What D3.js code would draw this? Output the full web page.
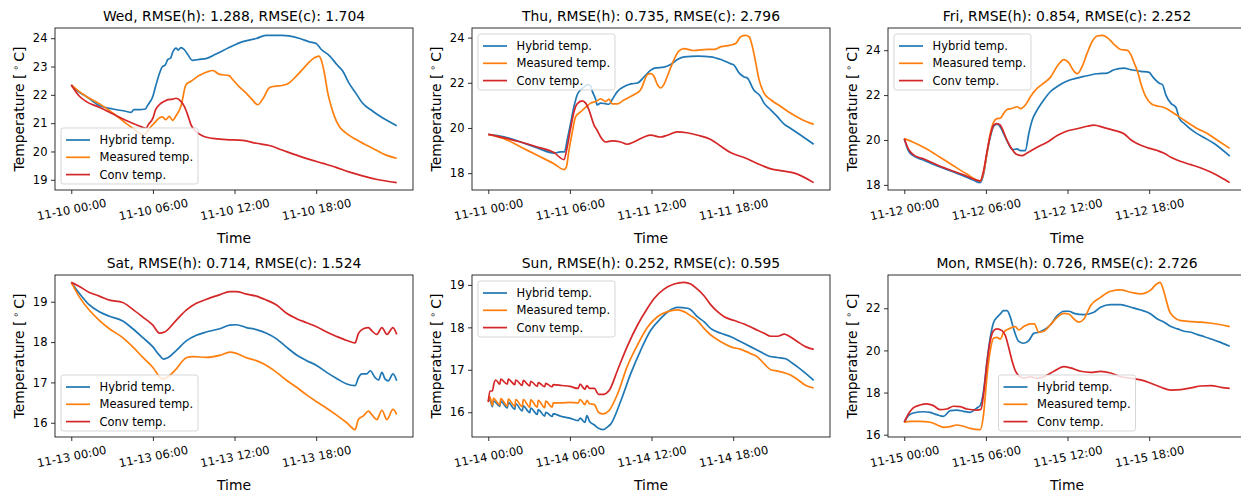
<!DOCTYPE html>
<html>
<head>
<meta charset="utf-8">
<script src="https://cdn.jsdelivr.net/npm/d3@7"></script>
<style>
  body { margin: 0; background: #fff; }
  svg { display: block; }
  text { font-family: "DejaVu Sans", sans-serif; fill: #000; }
</style>
</head>
<body>
<svg id="chart" width="1241" height="495"></svg>
<script>
// ---- data -------------------------------------------------------------
const dayNames = ["Wed", "Thu", "Fri", "Sat", "Sun", "Mon"];
const dayDates = ["2021-11-10", "2021-11-11", "2021-11-12", "2021-11-13", "2021-11-14", "2021-11-15"];
const rmseHybrid = [1.288, 0.735, 0.854, 0.714, 0.252, 0.726];
const rmseConv = [1.704, 2.796, 2.252, 1.524, 0.595, 2.726];
const seriesNames = ["Hybrid temp.", "Measured temp.", "Conv temp."];
const xTickHours = [0, 6, 12, 18];
const yTickValues = [
  [19, 20, 21, 22, 23, 24],
  [18, 20, 22, 24],
  [18, 20, 22, 24],
  [16, 17, 18, 19],
  [16, 17, 18, 19],
  [16, 18, 20, 22]
];
const legendLoc = ["lower left", "upper left", "upper left", "lower left", "upper left", "lower center"];

// each series: [hour of day, temperature in °C]
const wedHybrid = [[0,22.35],[0.5,22.12],[1.08,21.95],[2.06,21.62],[3.04,21.5],[4.0,21.42],[4.4,21.38],[4.6,21.48],[5.0,21.48],[5.45,21.5],[5.6,21.62],[6.0,21.95],[6.2,22.3],[6.5,22.78],[6.7,23.0],[6.9,23.05],[7.1,23.25],[7.3,23.3],[7.45,23.5],[7.7,23.65],[7.85,23.58],[8.06,23.67],[8.3,23.6],[8.55,23.43],[8.9,23.22],[9.4,23.25],[9.9,23.28],[10.6,23.43],[11.6,23.67],[12.6,23.88],[13.6,23.99],[14.3,24.1],[15.5,24.1],[16.0,24.08],[16.8,23.99],[17.5,23.87],[18.0,23.81],[18.36,23.61],[19.0,23.37],[19.5,23.08],[19.95,22.84],[20.4,22.42],[20.9,22.07],[21.4,21.71],[22.16,21.42],[22.9,21.18],[23.92,20.91]];
const wedMeasured = [[0,22.35],[0.5,22.15],[1.08,21.95],[2.06,21.69],[3.04,21.36],[4.0,21.0],[4.75,20.74],[5.25,20.59],[5.5,20.65],[5.86,20.88],[6.1,21.0],[6.47,21.18],[6.7,21.22],[6.95,21.12],[7.2,21.24],[7.45,21.1],[7.7,21.26],[8.06,21.6],[8.43,22.36],[8.8,22.48],[9.4,22.68],[10.15,22.84],[10.4,22.86],[10.9,22.72],[11.6,22.68],[11.86,22.54],[12.35,22.28],[12.84,22.07],[13.3,21.83],[13.7,21.65],[14.07,21.85],[14.56,22.25],[14.9,22.3],[15.5,22.33],[16.0,22.42],[16.5,22.64],[17.0,22.9],[17.5,23.16],[17.87,23.31],[18.2,23.37],[18.36,23.25],[18.6,22.78],[18.85,22.07],[19.1,21.6],[19.34,21.24],[19.7,20.88],[20.2,20.65],[20.9,20.43],[21.7,20.22],[22.4,20.05],[23.1,19.88],[23.92,19.76]];
const wedConv = [[0,22.35],[0.6,21.95],[1.08,21.77],[2.06,21.56],[3.04,21.33],[4.0,21.1],[5.0,20.9],[5.5,20.82],[5.65,20.94],[6.0,21.18],[6.2,21.48],[6.47,21.65],[6.84,21.77],[7.1,21.83],[7.45,21.85],[7.7,21.88],[8.06,21.77],[8.3,21.6],[8.55,21.3],[8.8,20.94],[9.17,20.7],[9.66,20.55],[10.4,20.46],[11.4,20.42],[12.6,20.39],[13.6,20.29],[14.56,20.21],[15.5,20.05],[16.5,19.88],[17.5,19.72],[18.5,19.58],[19.46,19.44],[20.4,19.28],[21.4,19.14],[22.4,19.02],[23.92,18.9]];

const thuHybrid = [[0,19.72],[1.15,19.61],[2.38,19.38],[3.6,19.12],[4.83,18.89],[5.3,18.94],[5.6,18.94],[5.8,19.46],[6.05,20.2],[6.3,20.95],[6.54,21.47],[6.8,21.7],[7.03,21.81],[7.28,21.92],[7.52,21.87],[7.65,21.62],[7.9,21.25],[8.0,21.02],[8.26,21.1],[8.63,21.07],[8.87,21.05],[9.1,21.25],[9.5,21.62],[10.0,21.84],[10.5,21.95],[10.96,21.99],[11.45,22.26],[11.94,22.56],[12.3,22.66],[12.9,22.69],[13.4,22.81],[13.9,23.03],[14.4,23.15],[15.4,23.18],[16.35,23.15],[17.1,23.03],[17.8,22.85],[18.06,22.78],[18.43,22.44],[18.8,22.26],[19.04,22.21],[19.5,21.69],[20.0,21.4],[20.27,21.1],[20.76,20.8],[21.25,20.5],[21.74,20.17],[22.23,19.98],[22.97,19.68],[23.92,19.28]];
const thuMeasured = [[0,19.72],[1.15,19.53],[2.38,19.16],[3.6,18.79],[4.83,18.42],[5.56,18.16],[5.74,18.27],[5.93,19.01],[6.18,19.83],[6.42,20.5],[6.8,20.72],[7.16,20.92],[7.52,21.1],[7.9,21.17],[8.26,21.29],[8.63,21.17],[8.87,21.28],[9.1,21.07],[9.5,21.07],[10.0,21.25],[10.7,21.47],[11.2,21.69],[11.7,22.36],[11.94,22.41],[12.18,22.29],[12.43,21.92],[12.67,21.77],[12.9,21.92],[13.3,22.51],[13.65,23.03],[14.0,23.4],[14.4,23.51],[15.1,23.43],[16.1,23.48],[16.6,23.48],[17.1,23.6],[17.8,23.67],[18.2,23.75],[18.55,24.04],[18.92,24.1],[19.17,24.04],[19.4,23.63],[19.66,22.88],[19.9,22.14],[20.27,21.54],[20.76,21.25],[21.5,20.95],[22.23,20.65],[22.97,20.4],[23.92,20.16]];
const thuConv = [[0,19.72],[2.38,19.38],[3.6,19.16],[4.83,18.91],[5.56,18.6],[5.8,19.16],[6.05,19.98],[6.3,20.72],[6.54,21.07],[6.9,21.2],[7.16,21.1],[7.4,20.8],[7.77,20.13],[8.0,19.9],[8.26,19.6],[8.63,19.38],[9.1,19.43],[9.73,19.38],[10.2,19.28],[10.7,19.38],[11.45,19.6],[11.94,19.68],[12.67,19.6],[13.16,19.68],[13.9,19.83],[14.6,19.79],[15.4,19.68],[16.35,19.49],[17.1,19.19],[17.8,18.91],[18.8,18.69],[19.8,18.42],[20.76,18.19],[21.74,18.09],[22.5,18.0],[23.92,17.58]];

const friHybrid = [[0,20.06],[0.3,19.53],[0.66,19.3],[1.4,19.11],[2.39,18.85],[3.37,18.63],[4.35,18.4],[5.09,18.21],[5.58,18.1],[5.83,18.48],[6.07,19.38],[6.32,20.13],[6.57,20.61],[6.81,20.7],[7.06,20.58],[7.3,20.28],[7.55,19.97],[7.8,19.67],[8.04,19.57],[8.29,19.6],[8.53,19.53],[8.9,19.53],[9.15,20.28],[9.4,20.88],[9.76,21.33],[10.25,21.78],[10.75,22.16],[11.24,22.38],[11.73,22.56],[12.22,22.68],[13.2,22.83],[14.19,22.95],[14.92,22.98],[15.42,23.13],[16.15,23.2],[16.65,23.13],[17.38,23.06],[18.0,23.01],[18.24,22.83],[18.74,22.53],[18.98,22.46],[19.23,22.0],[19.6,21.63],[19.97,21.45],[20.21,20.96],[20.58,20.73],[21.32,20.36],[22.06,20.1],[22.8,19.83],[23.92,19.28]];
const friMeasured = [[0,20.06],[0.66,19.9],[1.65,19.6],[2.63,19.23],[3.61,18.85],[4.6,18.48],[5.58,18.18],[5.83,18.55],[6.07,19.38],[6.32,20.28],[6.57,20.8],[6.81,20.95],[7.06,20.97],[7.3,21.18],[7.55,21.36],[7.9,21.4],[8.29,21.48],[8.53,21.4],[8.9,21.56],[9.27,21.93],[9.76,22.3],[10.25,22.53],[10.75,22.8],[11.24,23.28],[11.73,23.58],[12.1,23.43],[12.47,23.06],[12.71,22.95],[13.08,23.28],[13.45,23.88],[13.82,24.4],[14.19,24.63],[14.56,24.66],[14.92,24.56],[15.42,24.26],[15.9,24.03],[16.4,23.99],[16.65,23.8],[16.9,23.43],[17.14,23.06],[17.38,22.53],[17.75,21.93],[18.12,21.63],[18.49,21.53],[19.1,21.45],[19.84,21.18],[20.58,20.88],[21.56,20.5],[22.3,20.28],[23.04,19.98],[23.92,19.63]];
const friConv = [[0,20.06],[0.3,19.6],[0.66,19.35],[1.4,19.16],[2.39,18.9],[3.37,18.66],[4.35,18.45],[5.09,18.26],[5.58,18.18],[5.83,18.63],[6.07,19.45],[6.32,20.2],[6.57,20.66],[6.81,20.73],[7.06,20.66],[7.3,20.36],[7.55,19.98],[7.9,19.6],[8.29,19.35],[8.65,19.3],[9.0,19.41],[9.76,19.68],[10.5,19.9],[11.24,20.2],[11.97,20.4],[12.71,20.5],[13.45,20.61],[13.94,20.66],[14.68,20.55],[15.42,20.43],[16.15,20.28],[16.65,20.01],[17.14,19.83],[17.9,19.65],[18.6,19.53],[19.1,19.41],[19.6,19.23],[20.33,19.04],[21.07,18.9],[21.8,18.75],[22.55,18.56],[23.28,18.33],[23.92,18.1]];

const satHybrid = [[0,19.48],[0.59,19.21],[1.33,18.92],[2.06,18.75],[2.8,18.64],[3.78,18.52],[4.52,18.33],[5.26,18.11],[6.0,17.88],[6.49,17.67],[6.78,17.58],[7.1,17.61],[7.71,17.79],[8.45,18.03],[9.19,18.17],[9.93,18.25],[10.9,18.33],[11.65,18.42],[12.14,18.43],[12.87,18.36],[13.6,18.31],[14.35,18.22],[15.09,18.08],[15.8,17.88],[16.56,17.68],[17.3,17.54],[18.03,17.42],[18.77,17.25],[19.5,17.1],[20.25,16.96],[20.86,16.92],[21.1,17.11],[21.35,17.21],[21.72,17.21],[21.97,17.29],[22.33,17.12],[22.58,17.06],[22.83,17.25],[23.07,17.08],[23.3,17.04],[23.64,17.21],[23.92,17.04]];
const satMeasured = [[0,19.48],[0.59,19.12],[1.33,18.79],[2.06,18.54],[2.8,18.33],[3.78,18.11],[4.52,17.88],[5.26,17.62],[6.0,17.37],[6.49,17.14],[6.73,17.08],[7.1,17.14],[7.71,17.33],[8.45,17.61],[8.94,17.64],[9.93,17.62],[10.9,17.67],[11.65,17.75],[12.14,17.72],[12.87,17.61],[13.6,17.54],[14.35,17.42],[15.09,17.25],[15.8,17.06],[16.56,16.88],[17.3,16.69],[18.03,16.52],[18.77,16.36],[19.5,16.19],[20.25,16.0],[20.86,15.83],[21.1,16.08],[21.47,16.17],[21.84,16.29],[22.09,16.2],[22.46,16.08],[22.83,16.31],[23.2,16.08],[23.64,16.33],[23.92,16.21]];
const satConv = [[0,19.48],[0.59,19.38],[1.33,19.23],[2.06,19.14],[2.8,19.04],[3.78,18.98],[4.52,18.81],[5.26,18.62],[6.0,18.42],[6.49,18.22],[6.86,18.25],[7.71,18.54],[8.45,18.79],[9.19,18.96],[9.93,19.06],[10.9,19.17],[11.65,19.25],[12.14,19.25],[12.87,19.19],[13.6,19.14],[14.35,19.04],[15.09,18.92],[15.8,18.72],[16.56,18.58],[17.3,18.48],[18.03,18.38],[18.77,18.25],[19.5,18.14],[20.25,18.04],[20.86,17.98],[21.1,18.21],[21.47,18.33],[21.84,18.36],[22.09,18.28],[22.46,18.19],[22.83,18.36],[23.2,18.19],[23.64,18.36],[23.92,18.19]];

const sunHybrid = [[0,16.26],[0.12,16.3],[0.3,16.13],[0.38,16.27],[0.85,16.14],[0.92,16.26],[1.4,16.1],[1.47,16.23],[1.95,16.07],[2.02,16.2],[2.5,16.03],[2.57,16.15],[3.05,15.99],[3.12,16.1],[3.6,15.95],[3.67,16.06],[4.15,15.91],[4.22,16.0],[4.7,15.9],[4.77,15.96],[5.4,15.9],[6.0,15.86],[6.6,15.8],[6.75,15.86],[7.1,15.76],[7.25,15.92],[7.45,15.78],[7.8,15.7],[8.1,15.62],[8.45,15.59],[8.75,15.65],[9.0,15.72],[9.73,16.26],[10.47,16.91],[11.2,17.46],[11.94,17.93],[12.68,18.21],[13.3,18.39],[13.9,18.47],[14.64,18.45],[14.9,18.41],[15.37,18.25],[15.87,18.13],[16.36,17.97],[17.1,17.86],[17.83,17.78],[18.56,17.66],[19.3,17.54],[20.03,17.42],[20.65,17.32],[21.26,17.29],[21.87,17.26],[22.24,17.18],[22.73,17.07],[23.35,16.91],[23.92,16.75]];
const sunMeasured = [[0,16.26],[0.12,16.36],[0.3,16.16],[0.38,16.33],[0.85,16.17],[0.92,16.32],[1.4,16.15],[1.47,16.31],[1.95,16.14],[2.02,16.3],[2.5,16.13],[2.57,16.3],[3.05,16.12],[3.12,16.29],[3.6,16.12],[3.67,16.28],[4.15,16.11],[4.22,16.26],[4.7,16.12],[4.77,16.22],[5.4,16.22],[6.0,16.23],[6.6,16.22],[6.75,16.3],[7.1,16.18],[7.25,16.28],[7.45,16.2],[7.8,16.18],[8.1,16.0],[8.45,15.96],[8.88,16.04],[9.5,16.43],[10.2,17.07],[10.96,17.58],[11.7,18.0],[12.43,18.25],[13.17,18.37],[13.9,18.41],[14.39,18.37],[14.88,18.27],[15.37,18.16],[15.87,17.97],[16.36,17.82],[17.1,17.66],[17.83,17.54],[18.56,17.48],[19.3,17.38],[19.8,17.3],[20.28,17.14],[20.77,17.0],[21.26,16.97],[21.87,16.92],[22.24,16.87],[22.73,16.77],[23.35,16.63],[23.92,16.57]];
const sunConv = [[0,16.24],[0.12,16.5],[0.3,16.5],[0.42,16.68],[0.55,16.76],[0.85,16.66],[0.92,16.78],[1.4,16.66],[1.47,16.78],[1.95,16.65],[2.02,16.76],[2.5,16.63],[2.57,16.75],[3.05,16.62],[3.12,16.73],[3.6,16.61],[3.67,16.7],[4.15,16.6],[4.22,16.68],[4.7,16.6],[4.77,16.65],[5.4,16.63],[6.0,16.61],[6.6,16.56],[6.75,16.66],[7.1,16.54],[7.25,16.63],[7.45,16.56],[7.8,16.56],[8.1,16.42],[8.45,16.42],[8.88,16.51],[9.5,16.99],[10.2,17.54],[10.96,18.05],[11.7,18.45],[12.19,18.68],[12.92,18.9],[13.66,19.02],[14.39,19.06],[14.88,19.02],[15.37,18.9],[15.87,18.74],[16.36,18.53],[16.85,18.37],[17.34,18.25],[18.07,18.16],[18.8,18.08],[19.54,17.97],[20.28,17.86],[20.77,17.79],[21.26,17.79],[21.75,17.84],[22.12,17.79],[22.73,17.66],[23.35,17.54],[23.92,17.48]];

const monHybrid = [[0,16.59],[0.3,16.9],[0.66,17.03],[1.4,17.09],[1.9,17.06],[2.39,16.95],[2.88,16.87],[3.37,17.14],[3.86,17.17],[4.35,17.11],[4.84,17.06],[5.34,17.27],[5.58,17.38],[5.83,18.09],[6.07,19.44],[6.32,20.62],[6.57,21.34],[6.81,21.57],[7.06,21.73],[7.3,21.89],[7.55,21.89],[7.8,21.57],[8.04,21.02],[8.41,20.43],[8.78,20.34],[9.15,20.46],[9.52,20.81],[9.88,20.86],[10.25,20.97],[10.75,21.22],[11.24,21.65],[11.73,21.86],[12.1,21.86],[12.47,21.76],[13.2,21.7],[13.94,21.81],[14.43,22.05],[15.17,22.17],[15.9,22.17],[16.65,22.05],[17.38,21.92],[18.12,21.73],[18.6,21.49],[19.1,21.34],[19.6,21.13],[20.09,21.02],[20.58,20.91],[21.07,20.86],[21.56,20.75],[22.06,20.65],[22.55,20.54],[23.04,20.43],[23.92,20.2]];
const monMeasured = [[0,16.59],[0.42,16.63],[1.16,16.63],[1.9,16.59],[2.39,16.47],[2.88,16.35],[3.37,16.38],[3.86,16.46],[4.35,16.4],[4.84,16.3],[5.58,16.24],[5.83,16.98],[6.07,18.72],[6.32,19.99],[6.57,20.59],[6.81,20.62],[7.06,20.54],[7.3,20.86],[7.67,21.02],[8.16,21.13],[8.41,20.97],[8.78,21.13],[9.27,21.26],[9.56,21.26],[9.88,20.86],[10.25,20.91],[10.75,21.22],[11.24,21.57],[11.73,21.76],[12.1,21.73],[12.47,21.49],[12.84,21.34],[13.2,21.49],[13.7,22.13],[14.43,22.52],[15.17,22.81],[15.9,22.87],[16.65,22.76],[17.38,22.68],[18.12,22.87],[18.49,23.12],[18.81,23.23],[18.98,23.0],[19.23,22.44],[19.47,21.89],[19.84,21.57],[20.33,21.41],[21.07,21.37],[21.8,21.34],[22.55,21.29],[23.28,21.22],[23.92,21.13]];
const monConv = [[0,16.59],[0.3,16.98],[0.66,17.27],[1.16,17.41],[1.65,17.46],[2.14,17.38],[2.63,17.19],[3.12,17.22],[3.61,17.35],[4.1,17.33],[4.6,17.22],[5.34,17.17],[5.63,17.2],[5.83,17.93],[6.07,19.36],[6.32,20.46],[6.57,20.94],[6.81,21.02],[7.18,20.94],[7.43,20.7],[7.67,20.15],[7.92,19.51],[8.16,19.04],[8.41,18.8],[8.78,18.68],[9.27,18.75],[9.76,18.68],[10.25,18.75],[11.0,19.01],[11.73,19.23],[12.22,19.17],[12.96,19.01],[13.7,18.96],[14.43,19.01],[15.17,18.93],[15.9,18.75],[16.65,18.68],[17.38,18.6],[18.12,18.44],[18.86,18.25],[19.6,18.12],[20.33,18.14],[21.07,18.22],[21.8,18.31],[22.55,18.33],[23.28,18.25],[23.92,18.2]];

const panelSeries = [
  [wedHybrid, wedMeasured, wedConv],
  [thuHybrid, thuMeasured, thuConv],
  [friHybrid, friMeasured, friConv],
  [satHybrid, satMeasured, satConv],
  [sunHybrid, sunMeasured, sunConv],
  [monHybrid, monMeasured, monConv]
];

// ---- layout & style ---------------------------------------------------
const colors = ["#1f77b4", "#ff7f0e", "#d62728"];
const colLeft = [55, 472, 888];
const rowTop = [28, 275];
const plotW = 358, plotH = 162;
const tickFont = "11.5px", labelFont = "13.9px";
const xLabelAngle = -11;

const svg = d3.select("#chart");
const parseDay = d3.timeParse("%Y-%m-%d");
const fmt = d3.timeFormat("%m-%d %H:%M");
const atHour = (day, h) => new Date(day.getTime() + h * 3600 * 1000);

panelSeries.forEach((series, i) => {
  const g = svg.append("g")
    .attr("transform", `translate(${colLeft[i % 3]},${rowTop[Math.floor(i / 3)]})`);
  const day = parseDay(dayDates[i]);

  // scales with 5% margins around the data, matplotlib-style
  const allPts = series.flat();
  const [h0, h1] = d3.extent(allPts, d => d[0]);
  const [v0, v1] = d3.extent(allPts, d => d[1]);
  const hp = (h1 - h0) * 0.05, vp = (v1 - v0) * 0.05;
  const x = d3.scaleTime().domain([atHour(day, h0 - hp), atHour(day, h1 + hp)]).range([0, plotW]);
  const y = d3.scaleLinear().domain([v0 - vp, v1 + vp]).range([plotH, 0]);

  // series lines
  const line = d3.line()
    .x(d => x(atHour(day, d[0])))
    .y(d => y(d[1]))
    .curve(d3.curveMonotoneX);
  series.forEach((s, k) => {
    g.append("path").datum(s)
      .attr("d", line)
      .attr("fill", "none")
      .attr("stroke", colors[k])
      .attr("stroke-width", 1.7)
      .attr("stroke-linejoin", "round");
  });

  // frame
  g.append("rect")
    .attr("x", 0).attr("y", 0).attr("width", plotW).attr("height", plotH)
    .attr("fill", "none").attr("stroke", "#1a1a1a").attr("stroke-width", 0.9);

  // y axis
  const ya = g.append("g")
    .call(d3.axisLeft(y).tickValues(yTickValues[i]).tickSize(4).tickPadding(3.5).tickFormat(d3.format("d")));
  ya.select(".domain").remove();
  ya.selectAll(".tick line").attr("stroke", "#1a1a1a").attr("stroke-width", 0.9);
  ya.selectAll(".tick text").style("font-size", tickFont).style("font-family", "DejaVu Sans").attr("fill", "#000");

  // x axis with slanted date labels
  const xa = g.append("g").attr("transform", `translate(0,${plotH})`)
    .call(d3.axisBottom(x).tickValues(xTickHours.map(h => atHour(day, h))).tickSize(4).tickFormat(fmt));
  xa.select(".domain").remove();
  xa.selectAll(".tick line").attr("stroke", "#1a1a1a").attr("stroke-width", 0.9);
  xa.selectAll(".tick text")
    .attr("y", null).attr("dy", null)
    .attr("text-anchor", "middle")
    .attr("dominant-baseline", "central")
    .attr("transform", `translate(0,19.5) rotate(${xLabelAngle})`)
    .style("font-size", tickFont).style("font-family", "DejaVu Sans").attr("fill", "#000");

  // title
  g.append("text")
    .attr("x", plotW / 2).attr("y", -7)
    .attr("text-anchor", "middle")
    .style("font-size", labelFont)
    .text(`${dayNames[i]}, RMSE(h): ${rmseHybrid[i].toFixed(3)}, RMSE(c): ${rmseConv[i].toFixed(3)}`);

  // axis labels
  g.append("text")
    .attr("x", plotW / 2).attr("y", plotH + 53)
    .attr("text-anchor", "middle")
    .style("font-size", labelFont)
    .text("Time");
  const yl = g.append("text")
    .attr("transform", `translate(-31,${plotH / 2}) rotate(-90)`)
    .attr("text-anchor", "middle")
    .style("font-size", labelFont);
  yl.append("tspan").text("Temperature [");
  yl.append("tspan").attr("dx", 3).attr("dy", -5).style("font-size", "9.5px").text("\u2218");
  yl.append("tspan").attr("dx", 3).attr("dy", 5).text("C]");

  // legend
  const lw = 137, lh = 56, pad = 6;
  const loc = legendLoc[i];
  const lx = loc.endsWith("center") ? (plotW - lw) / 2 : pad;
  const ly = loc.startsWith("upper") ? pad : plotH - pad - lh;
  const lg = g.append("g").attr("transform", `translate(${lx},${ly})`);
  lg.append("rect")
    .attr("x", 0).attr("y", 0).attr("width", lw).attr("height", lh)
    .attr("rx", 2.5).attr("ry", 2.5)
    .attr("fill", "#fff").attr("fill-opacity", 0.8)
    .attr("stroke", "#ccc").attr("stroke-opacity", 0.8).attr("stroke-width", 1);
  seriesNames.forEach((name, k) => {
    const ry = 12 + k * 17.3;
    lg.append("line")
      .attr("x1", 5).attr("x2", 29).attr("y1", ry).attr("y2", ry)
      .attr("stroke", colors[k]).attr("stroke-width", 1.7);
    lg.append("text")
      .attr("x", 38.5).attr("y", ry)
      .attr("dominant-baseline", "central")
      .style("font-size", tickFont)
      .text(name);
  });
});
</script>
</body>
</html>
